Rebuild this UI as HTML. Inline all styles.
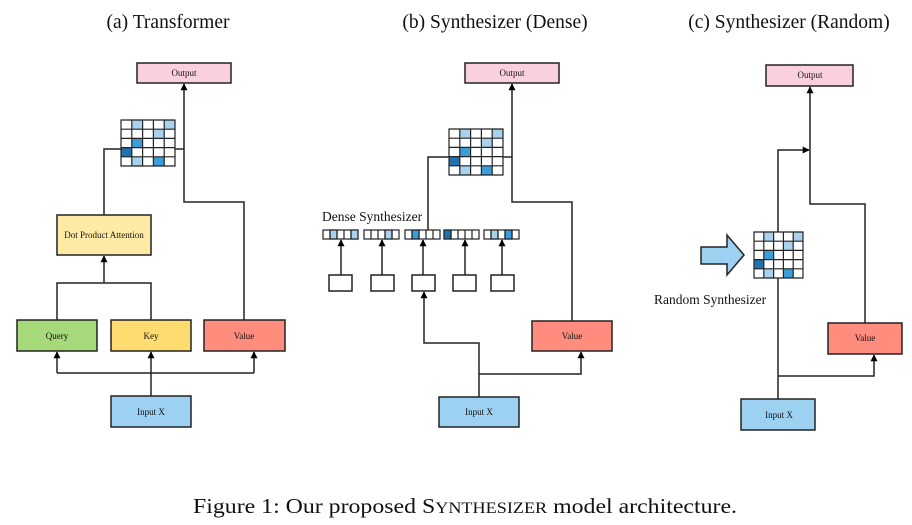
<!DOCTYPE html>
<html><head><meta charset="utf-8"><style>
html,body{margin:0;padding:0;background:#fff;}
svg{display:block;}
text{font-family:"Liberation Serif",serif;fill:#111;}
</style></head><body>
<svg width="912" height="525" viewBox="0 0 912 525" xmlns="http://www.w3.org/2000/svg">
<defs>
<marker id="ah" viewBox="0 0 10 10" refX="9" refY="5" markerWidth="7" markerHeight="7" markerUnits="userSpaceOnUse" orient="auto">
<path d="M0,0 L10,5 L0,10 z" fill="#000"/></marker>
<g id="mat">
<rect x="0" y="0" width="5" height="5" fill="#fff"/>
<rect x="1" y="0" width="1" height="1" fill="#a9d2ef"/>
<rect x="4" y="0" width="1" height="1" fill="#a9d2ef"/>
<rect x="3" y="1" width="1" height="1" fill="#a9d2ef"/>
<rect x="1" y="2" width="1" height="1" fill="#3a9edb"/>
<rect x="0" y="3" width="1" height="1" fill="#1f72ae"/>
<rect x="1" y="4" width="1" height="1" fill="#a9d2ef"/>
<rect x="3" y="4" width="1" height="1" fill="#3a9edb"/>
<path d="M0,0H5V5H0Z M1,0V5 M2,0V5 M3,0V5 M4,0V5 M0,1H5 M0,2H5 M0,3H5 M0,4H5" fill="none" stroke="#222" stroke-width="1.2" vector-effect="non-scaling-stroke"/>
</g>
</defs>

<text x="168" y="28" font-size="19.5" text-anchor="middle">(a) Transformer</text>
<text x="495" y="28" font-size="19.5" text-anchor="middle">(b) Synthesizer (Dense)</text>
<text x="789" y="28" font-size="19.5" text-anchor="middle">(c) Synthesizer (Random)</text>

<g stroke="#222" stroke-width="1.5" fill="none">
<path d="M244,320 V202 H184 V84" marker-end="url(#ah)"/>
<path d="M121,149 H104 V215"/>
<path d="M175,149 H184"/>
<path d="M57,320 V283 H151 V320"/>
<path d="M104,283 V256" marker-end="url(#ah)"/>
<path d="M151,396 V373"/>
<path d="M57,373 H254"/>
<path d="M57,373 V352" marker-end="url(#ah)"/>
<path d="M151,373 V352" marker-end="url(#ah)"/>
<path d="M254,373 V352" marker-end="url(#ah)"/>

<path d="M572,321 V202 H512 V84" marker-end="url(#ah)"/>
<path d="M449,157 H428 V230"/>
<path d="M503,157 H512"/>
<path d="M341,275 V240" marker-end="url(#ah)"/>
<path d="M382,275 V240" marker-end="url(#ah)"/>
<path d="M423,275 V240" marker-end="url(#ah)"/>
<path d="M465,275 V240" marker-end="url(#ah)"/>
<path d="M502,275 V240" marker-end="url(#ah)"/>
<path d="M479,397 V343 H424 V292" marker-end="url(#ah)"/>
<path d="M479,374 H581 V352" marker-end="url(#ah)"/>

<path d="M865,323 V204 H810 V87" marker-end="url(#ah)"/>
<path d="M778,232 V150 H809" marker-end="url(#ah)"/>
<path d="M778,278 V399"/>
<path d="M778,376 H874 V355" marker-end="url(#ah)"/>
</g>

<g stroke="#222" stroke-width="1.5">
<rect x="137" y="63" width="94" height="20" fill="#f9d0dc"/>
<rect x="57" y="215" width="94" height="40" fill="#ffeba6"/>
<rect x="17" y="320" width="80" height="31" fill="#a6d97a"/>
<rect x="111" y="320" width="80" height="31" fill="#ffdc70"/>
<rect x="204" y="320" width="81" height="31" fill="#ff8c7c"/>
<rect x="111" y="396" width="80" height="31" fill="#9dd1f2"/>
<rect x="465" y="63" width="94" height="20" fill="#f9d0dc"/>
<rect x="532" y="321" width="80" height="30" fill="#ff8c7c"/>
<rect x="439" y="397" width="80" height="30" fill="#9dd1f2"/>
<rect x="329" y="275" width="23" height="16" fill="#fff"/>
<rect x="371" y="275" width="23" height="16" fill="#fff"/>
<rect x="412" y="275" width="23" height="16" fill="#fff"/>
<rect x="453" y="275" width="23" height="16" fill="#fff"/>
<rect x="491" y="275" width="23" height="16" fill="#fff"/>
<rect x="766" y="65" width="87" height="21" fill="#f9d0dc"/>
<rect x="828" y="323" width="74" height="31" fill="#ff8c7c"/>
<rect x="741" y="399" width="74" height="31" fill="#9dd1f2"/>
<path d="M701,247 H727 V235 L744,255 L727,275 V264 H701 Z" fill="#9dd1f2"/>
</g>

<use href="#mat" transform="translate(121,120) scale(10.8,9.2)"/>
<use href="#mat" transform="translate(449,129) scale(10.8,9.2)"/>
<use href="#mat" transform="translate(754,232) scale(9.8,9.2)"/>

<g stroke="#222" stroke-width="1.2">
<g transform="translate(323,230)">
<rect x="0" y="0" width="35" height="9" fill="#fff"/><rect x="7" y="0" width="7" height="9" fill="#a9d2ef"/><rect x="28" y="0" width="7" height="9" fill="#a9d2ef"/>
<path d="M7,0V9M14,0V9M21,0V9M28,0V9" fill="none"/></g>
<g transform="translate(364,230)">
<rect x="0" y="0" width="35" height="9" fill="#fff"/><rect x="21" y="0" width="7" height="9" fill="#a9d2ef"/>
<path d="M7,0V9M14,0V9M21,0V9M28,0V9" fill="none"/></g>
<g transform="translate(405,230)">
<rect x="0" y="0" width="35" height="9" fill="#fff"/><rect x="7" y="0" width="7" height="9" fill="#3a9edb"/>
<path d="M7,0V9M14,0V9M21,0V9M28,0V9" fill="none"/></g>
<g transform="translate(444,230)">
<rect x="0" y="0" width="35" height="9" fill="#fff"/><rect x="0" y="0" width="7" height="9" fill="#1f72ae"/>
<path d="M7,0V9M14,0V9M21,0V9M28,0V9" fill="none"/></g>
<g transform="translate(484,230)">
<rect x="0" y="0" width="35" height="9" fill="#fff"/><rect x="7" y="0" width="7" height="9" fill="#a9d2ef"/><rect x="21" y="0" width="7" height="9" fill="#3a9edb"/>
<path d="M7,0V9M14,0V9M21,0V9M28,0V9" fill="none"/></g>
</g>

<g font-size="9" text-anchor="middle">
<text x="184" y="76">Output</text>
<text x="104" y="238">Dot Product Attention</text>
<text x="57" y="339">Query</text>
<text x="151" y="339">Key</text>
<text x="244" y="339">Value</text>
<text x="151" y="415">Input X</text>
<text x="512" y="76">Output</text>
<text x="572" y="339">Value</text>
<text x="479" y="415">Input X</text>
<text x="810" y="78">Output</text>
<text x="865" y="341">Value</text>
<text x="779" y="418">Input X</text>
</g>
<text x="322" y="221" font-size="13.5">Dense Synthesizer</text>
<text x="654" y="304" font-size="13.5">Random Synthesizer</text>

<text x="193" y="513" font-size="21" textLength="544" lengthAdjust="spacingAndGlyphs">Figure 1: Our proposed S<tspan font-size="16">YNTHESIZER</tspan> model architecture.</text>
</svg>
</body></html>
